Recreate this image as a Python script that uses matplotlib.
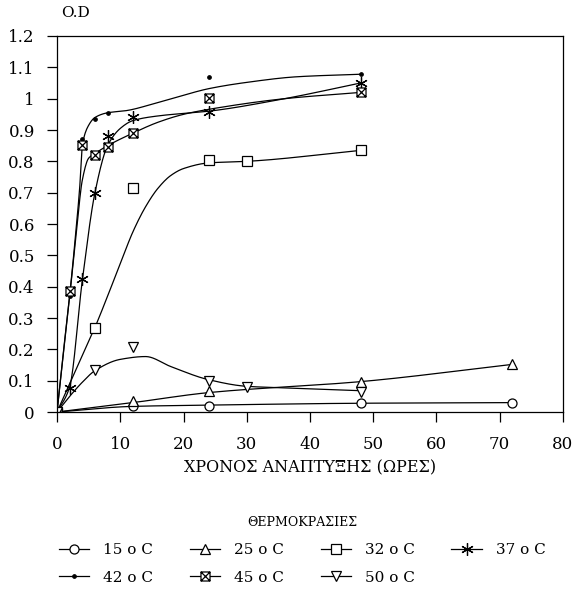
import matplotlib
matplotlib.use("Agg")
import matplotlib.pyplot as plt
import numpy as np
from matplotlib.path import Path
from matplotlib.lines import Line2D

plt.rcParams['font.family'] = ['DejaVu Serif']

# measured optical density (markers)
t_15 = [0, 12, 24, 48, 72]
od_15 = [0, 0.02, 0.018, 0.029, 0.03]
t_25 = [0, 12, 24, 48, 72]
od_25 = [0, 0.034, 0.067, 0.097, 0.153]
t_32 = [0, 6, 12, 24, 30, 48]
od_32 = [0, 0.268, 0.716, 0.805, 0.80, 0.835]
t_37 = [0, 2, 4, 6, 8, 12, 24, 48]
od_37 = [0, 0.077, 0.425, 0.70, 0.88, 0.94, 0.957, 1.05]
t_42 = [0, 2, 4, 6, 8, 24, 48]
od_42 = [0, 0.37, 0.87, 0.935, 0.955, 1.068, 1.078]
t_45 = [0, 2, 4, 6, 8, 12, 24, 48]
od_45 = [0, 0.387, 0.853, 0.82, 0.846, 0.89, 1.003, 1.022]
t_50 = [0, 6, 12, 24, 30, 48]
od_50 = [0, 0.133, 0.206, 0.099, 0.079, 0.064]

# fitted growth curves (knots of the smoothed lines)
fit_t_15 = [0, 12, 24, 48, 72]
fit_15 = [0, 0.018, 0.022, 0.028, 0.03]
fit_t_25 = [0, 12, 24, 48, 72]
fit_25 = [0, 0.03, 0.062, 0.097, 0.152]
fit_t_32 = [0, 2, 4, 6, 8, 10.5, 12, 14, 16, 18, 20, 24, 30, 48]
fit_32 = [0, 0.09, 0.18, 0.27, 0.37, 0.50, 0.575, 0.655, 0.715, 0.755, 0.777, 0.795, 0.80, 0.835]
fit_t_37 = [0, 2, 4, 6, 8, 10, 12, 16, 24, 36, 48]
fit_37 = [0, 0.08, 0.42, 0.70, 0.85, 0.905, 0.93, 0.945, 0.96, 1.0, 1.05]
fit_t_42 = [0, 2, 3, 3.6, 4, 5, 6, 8, 11, 15, 19, 24, 30, 38, 48]
fit_42 = [0, 0.37, 0.58, 0.72, 0.85, 0.915, 0.94, 0.955, 0.962, 0.982, 1.005, 1.032, 1.052, 1.07, 1.078]
fit_t_45 = [0, 1, 2, 3, 4, 5, 6, 8, 12, 16, 20, 24, 36, 48]
fit_45 = [0, 0.19, 0.37, 0.56, 0.74, 0.81, 0.825, 0.85, 0.89, 0.925, 0.95, 0.966, 1.0, 1.02]
fit_t_50 = [0, 2, 4, 6, 10, 14, 18, 24, 30, 36, 48]
fit_50 = [0, 0.05, 0.095, 0.132, 0.168, 0.177, 0.145, 0.103, 0.082, 0.077, 0.068]

labels = ["15 o C", "25 o C", "32 o C", "37 o C", "42 o C", "45 o C", "50 o C"]


def pchip(x, y, xs):
    # monotone cubic hermite through the knots
    x = np.asarray(x, float)
    y = np.asarray(y, float)
    h = np.diff(x)
    d = np.diff(y) / h
    m = np.zeros_like(y)
    for k in range(1, len(x) - 1):
        if d[k - 1] * d[k] > 0:
            w1 = 2 * h[k] + h[k - 1]
            w2 = h[k] + 2 * h[k - 1]
            m[k] = (w1 + w2) / (w1 / d[k - 1] + w2 / d[k])
    m[0] = d[0]
    m[-1] = d[-1]
    idx = np.clip(np.searchsorted(x, xs) - 1, 0, len(h) - 1)
    s = (xs - x[idx]) / h[idx]
    h00 = 2 * s**3 - 3 * s**2 + 1
    h10 = s**3 - 2 * s**2 + s
    h01 = -2 * s**3 + 3 * s**2
    h11 = s**3 - s**2
    return h00 * y[idx] + h10 * h[idx] * m[idx] + h01 * y[idx + 1] + h11 * h[idx] * m[idx + 1]


# boxed-x marker
boxx = Path([(-1, -1), (1, -1), (1, 1), (-1, 1), (-1, -1), (-1, -1), (1, 1), (-1, 1), (1, -1)],
            [Path.MOVETO, Path.LINETO, Path.LINETO, Path.LINETO, Path.CLOSEPOLY,
             Path.MOVETO, Path.LINETO, Path.MOVETO, Path.LINETO])

series = [
    (t_15, od_15, fit_t_15, fit_15, dict(marker='o', ms=6.5, mfc='white')),
    (t_25, od_25, fit_t_25, fit_25, dict(marker='^', ms=7, mfc='white')),
    (t_32, od_32, fit_t_32, fit_32, dict(marker='s', ms=6.5, mfc='white')),
    (t_37, od_37, fit_t_37, fit_37, dict(marker=(6, 2, 0), ms=9)),
    (t_42, od_42, fit_t_42, fit_42, dict(marker='o', ms=2.5, mfc='black')),
    (t_45, od_45, fit_t_45, fit_45, dict(marker=boxx, ms=6.5, mfc='white')),
    (t_50, od_50, fit_t_50, fit_50, dict(marker='v', ms=7, mfc='white')),
]

fig = plt.figure(figsize=(5.77, 5.96), dpi=100)
ax = fig.add_axes([0.0988, 0.3087, 0.8769, 0.6309])

handles = []
for t, od, ft, fv, mk in series:
    xs = np.linspace(ft[0], ft[-1], 400)
    ax.plot(xs, pchip(ft, fv, xs), color='black', lw=0.9)
    ax.plot(t, od, ls='none', color='black', mec='black', mew=0.9, **mk)
    handles.append(Line2D([], [], color='black', lw=0.9, mec='black', mew=0.9, **mk))

ax.set_xlim(0, 80)
ax.set_ylim(0, 1.2)
ax.set_xticks(np.arange(0, 81, 10))
ax.set_yticks(np.arange(0, 1.21, 0.1))
ax.set_yticklabels([f"{v:g}" for v in np.round(np.arange(0, 1.21, 0.1), 1)])
ax.tick_params(direction='out', length=7, width=0.9, labelsize=12, pad=9)
ax.tick_params(axis='x', pad=10)
for sp in ax.spines.values():
    sp.set_linewidth(0.9)

ax.set_xlabel("ΧΡΟΝΟΣ ΑΝΑΠΤΥΞΗΣ (ΩΡΕΣ)", fontsize=11.5, labelpad=5)
fig.text(0.13, 0.978, "O.D", fontsize=11, ha='center', va='center')

order = [0, 4, 1, 5, 2, 6, 3]
leg = fig.legend([handles[i] for i in order], [labels[i] for i in order],
                 ncol=4, loc='upper left', frameon=False, fontsize=11,
                 handlelength=2.0, handletextpad=0.9, columnspacing=2.4,
                 labelspacing=0.9, numpoints=1,
                 title="ΘΕΡΜΟΚΡΑΣΙΕΣ", title_fontsize=9)
leg.set_bbox_to_anchor((0.078, 0.157), transform=fig.transFigure)

fig.savefig("out.png", dpi=100)
